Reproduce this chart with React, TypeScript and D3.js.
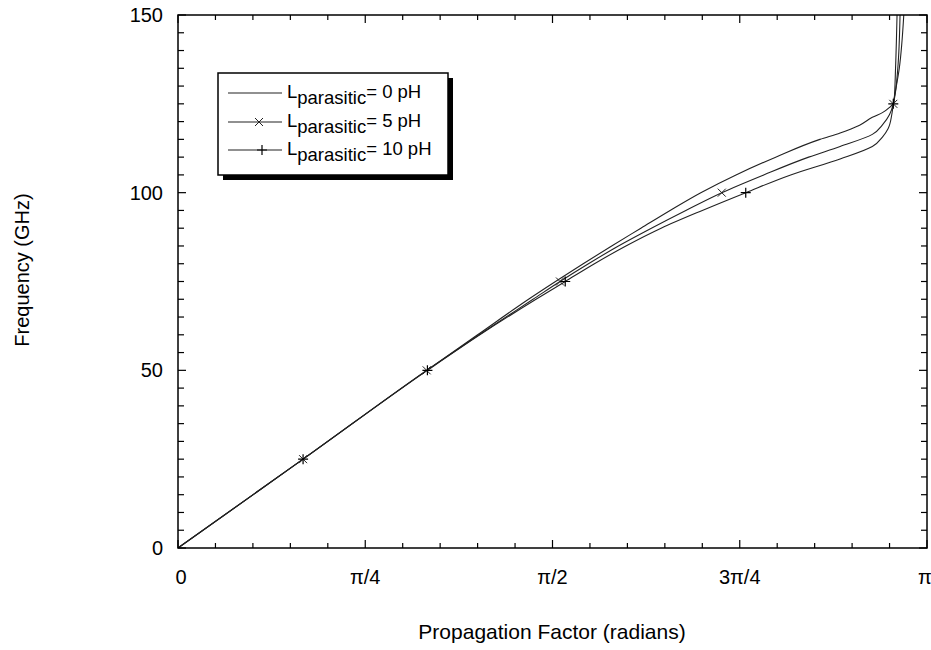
import React from "react";
import * as d3 from "d3";

// Frequency (GHz) vs propagation factor (beta / pi)
const series0Freq = [0, 25, 50, 60, 70, 75, 80, 85, 90, 95, 100, 105, 110, 115, 116.8, 119, 121.2, 122.6, 124, 125.5, 135, 150];
const series0Beta = [0, 0.167, 0.332, 0.400, 0.468, 0.504, 0.541, 0.579, 0.618, 0.657, 0.698, 0.745, 0.798, 0.857, 0.884, 0.910, 0.927, 0.941, 0.950, 0.956, 0.958, 0.960];

const series5Freq = [0, 25, 50, 60, 70, 75, 80, 85, 90, 95, 100, 105, 110, 113, 116.4, 119.2, 122, 125, 135, 150];
const series5Beta = [0, 0.167, 0.332, 0.402, 0.474, 0.510, 0.548, 0.588, 0.632, 0.678, 0.726, 0.782, 0.842, 0.884, 0.927, 0.941, 0.950, 0.955, 0.961, 0.964];

const series10Freq = [0, 25, 50, 60, 70, 75, 80, 85, 90, 95, 100, 105, 109.5, 113, 115.8, 118, 122, 125, 135, 150];
const series10Beta = [0, 0.167, 0.333, 0.403, 0.478, 0.517, 0.556, 0.598, 0.645, 0.700, 0.758, 0.818, 0.884, 0.927, 0.941, 0.948, 0.953, 0.955, 0.963, 0.969];

const markerFreqs = [25, 50, 75, 100, 125];

const xTickValues = [0, 0.25, 0.5, 0.75, 1];
const xTickLabels = ["0", "π/4", "π/2", "3π/4", "π"];
const yTickValues = [0, 50, 100, 150];

const legendLabels = ["= 0 pH", "= 5 pH", "= 10 pH"];

const FONT = "'Liberation Sans', Arial, Helvetica, sans-serif";

export default function App() {
  const left = 178, right = 927, top = 15, bottom = 548;
  const x = d3.scaleLinear().domain([0, 1]).range([left, right]);
  const y = d3.scaleLinear().domain([0, 150]).range([bottom, top]);

  const line = d3
    .line<[number, number]>()
    .x((d) => x(d[1]))
    .y((d) => y(d[0]))
    .curve(d3.curveMonotoneY);

  const mk = (f: number[], b: number[]) => f.map((v, i) => [v, b[i]] as [number, number]);
  const s0 = mk(series0Freq, series0Beta);
  const s5 = mk(series5Freq, series5Beta);
  const s10 = mk(series10Freq, series10Beta);

  const pick = (s: [number, number][]) =>
    markerFreqs.map((f) => s.find((d) => d[0] === f)!).filter(Boolean);

  const xMinor = d3.range(0, 21).map((i) => i / 20);
  const yMinor = d3.range(0, 31).map((i) => i * 5);

  const cross = (cx: number, cy: number, k: string) => (
    <path key={k} d={`M${cx - 4},${cy - 4}L${cx + 4},${cy + 4}M${cx - 4},${cy + 4}L${cx + 4},${cy - 4}`} stroke="#222" strokeWidth={1} fill="none" />
  );
  const plus = (cx: number, cy: number, k: string) => (
    <path key={k} d={`M${cx - 5},${cy}L${cx + 5},${cy}M${cx},${cy - 5}L${cx},${cy + 5}`} stroke="#000" strokeWidth={1.2} fill="none" />
  );

  const legX = 218, legY = 73, legW = 230, legH = 102;
  const rowsY = [93, 122, 150];

  return (
    <svg width={931} height={650} style={{ display: "block", position: "absolute", left: 0, top: 0 }} fontFamily={FONT}>
      <rect x={0} y={0} width={931} height={650} fill="#fff" />
      <defs>
        <clipPath id="plotclip">
          <rect x={left} y={top} width={right - left} height={bottom - top} />
        </clipPath>
      </defs>

      {/* curves */}
      <g clipPath="url(#plotclip)" fill="none" stroke="#222" strokeWidth={1.1}>
        <path d={line(s0)!} />
        <path d={line(s5)!} />
        <path d={line(s10)!} />
      </g>
      {pick(s5).map((d, i) => cross(x(d[1]), y(d[0]), "c" + i))}
      {pick(s10).map((d, i) => plus(x(d[1]), y(d[0]), "p" + i))}

      {/* ticks */}
      <g stroke="#000" strokeWidth={1.2}>
        {xMinor.map((v, i) => {
          const len = i % 5 === 0 ? 8 : 5;
          return (
            <g key={"xt" + i}>
              <line x1={x(v)} x2={x(v)} y1={bottom} y2={bottom - len} />
              <line x1={x(v)} x2={x(v)} y1={top} y2={top + len} />
            </g>
          );
        })}
        {yMinor.map((v, i) => {
          const len = i % 10 === 0 ? 8 : 6;
          return (
            <g key={"yt" + i}>
              <line x1={left} x2={left + len} y1={y(v)} y2={y(v)} />
              <line x1={right} x2={right - len} y1={y(v)} y2={y(v)} />
            </g>
          );
        })}
      </g>

      {/* frame */}
      <rect x={left} y={top} width={right - left} height={bottom - top} fill="none" stroke="#000" strokeWidth={1.5} />

      {/* tick labels */}
      <g fontSize={20} fill="#000">
        {xTickValues.map((v, i) => (
          <text key={"xl" + i} x={x(v) + (i === 0 ? 3 : i === 4 ? -2 : 0)} y={584} textAnchor="middle">
            {xTickLabels[i]}
          </text>
        ))}
        {yTickValues.map((v, i) => (
          <text key={"yl" + i} x={163} y={y(v)} dy="0.35em" textAnchor="end">
            {v}
          </text>
        ))}
      </g>

      {/* axis titles */}
      <text x={552} y={639} textAnchor="middle" fontSize={21}>
        Propagation Factor (radians)
      </text>
      <text transform={`translate(29,270) rotate(-90)`} textAnchor="middle" fontSize={20}>
        Frequency (GHz)
      </text>

      {/* legend */}
      <rect x={legX + 5} y={legY + 5} width={legW} height={legH} fill="#000" />
      <rect x={legX} y={legY} width={legW} height={legH} fill="#fff" stroke="#000" strokeWidth={1.5} />
      {legendLabels.map((lab, i) => (
        <g key={"lg" + i}>
          <line x1={228} x2={282} y1={rowsY[i]} y2={rowsY[i]} stroke="#222" strokeWidth={1.1} />
          {i === 1 && cross(259, rowsY[i], "lc")}
          {i === 2 && plus(262, rowsY[i], "lp")}
          <text x={287} y={rowsY[i] + 5} fontSize={18.5}>
            L
            <tspan dy={6}>parasitic</tspan>
            <tspan dy={-6}>{lab}</tspan>
          </text>
        </g>
      ))}
    </svg>
  );
}
